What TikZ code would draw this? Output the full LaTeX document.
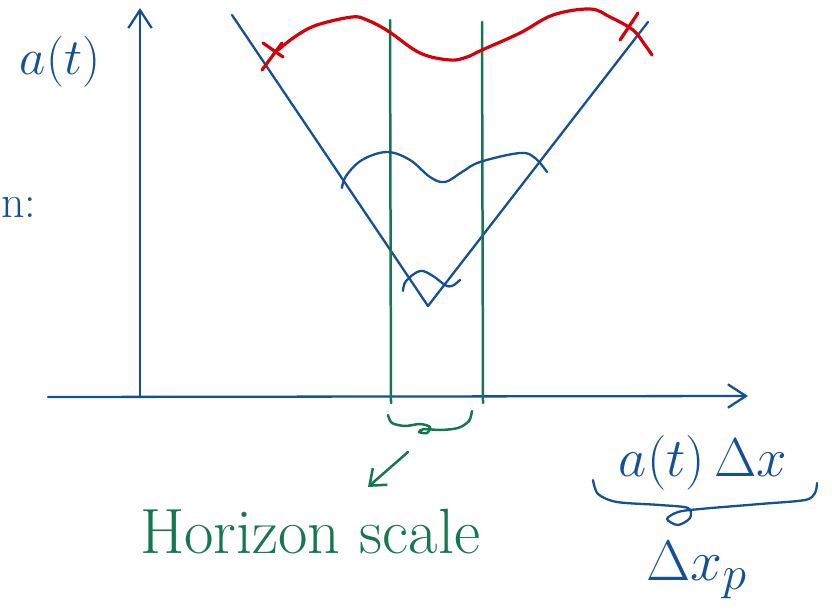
\documentclass[tikz,border=0pt]{standalone}
\usetikzlibrary{arrows.meta}
\definecolor{inkblue}{RGB}{22,80,148}
\definecolor{inkgreen}{RGB}{22,118,82}
\definecolor{inkred}{RGB}{214,0,10}
\tikzset{
  blueink/.style={draw=inkblue, line width=2.3pt, line cap=round, line join=round},
  greenink/.style={draw=inkgreen, line width=2.5pt, line cap=round, line join=round},
  redink/.style={draw=inkred, line width=3.2pt, line cap=round, line join=round},
  barb/.style={-{Straight Barb[length=#1, width=1.3*#1, line width=2.3pt]}},
  bluetext/.style={text=inkblue, inner sep=0pt},
  greentext/.style={text=inkgreen, inner sep=0pt},
}
\begin{document}
\begin{tikzpicture}[x=1pt,y=-1pt]
\useasboundingbox (0,0) rectangle (832,613);
% axes
\coordinate (yb) at (140,397);
\coordinate (yt) at (140,8);
\coordinate (xl) at (48,397);
\coordinate (xr) at (748,396);
\draw[blueink, barb=18pt] (yb) -- (yt);
\draw[blueink, barb=18pt] (xl) -- (xr);
% light cone (V)
\coordinate (vl) at (232,15);
\coordinate (v0) at (428,306);
\coordinate (vr) at (648,22);
\draw[blueink] (vl) -- (v0) -- (vr);
% horizon-scale lines
\coordinate (g1t) at (390,20);
\coordinate (g1b) at (391,403);
\coordinate (g2t) at (482,22);
\coordinate (g2b) at (483,403);
\draw[greenink] (g1t) -- (g1b);
\draw[greenink] (g2t) -- (g2b);
% red mode curve
\draw[redink] plot[smooth, tension=0.6] coordinates {(278,50) (296,36) (317,25) (352,17) (367,20) (388,31) (420,53) (450,60) (467,57) (482,50) (520,33) (553,15) (590,9) (610,17) (633,30) (645,45) (652,55)};
\draw[redink] (262,70) -- (282,43);
\draw[redink] (263,43) -- (283,57);
\draw[redink] (620,40) -- (638,13);
% blue mode curves
\draw[blueink] plot[smooth, tension=0.6] coordinates {(342,188) (346,176) (362,160) (387,152) (410,160) (430,177) (445,182) (462,172) (480,162) (520,153) (535,158) (547,172)};
\draw[blueink] plot[smooth, tension=0.6] coordinates {(403,291) (406,281) (420,271) (433,276) (445,285) (452,286) (460,280)};
% green brace
\draw[greenink] plot[smooth, tension=0.5] coordinates {(388,415) (392,423) (405,426) (420,424) (430,427) (427,433) (419,432) (424,429) (440,430) (458,428) (469,421) (472,411)};
% green arrow
\coordinate (ga) at (408,452);
\coordinate (gb) at (368,487);
\draw[greenink, -{Straight Barb[length=14pt, width=22pt, line width=2.5pt]}] (ga) -- (gb);
% blue brace bottom right
\draw[blueink] plot[smooth, tension=0.5] coordinates {(593,480) (598,494) (617,502) (660,505) (688,508) (690,518) (678,525) (667,519) (678,512) (700,509) (760,504) (805,500) (815,493) (817,483)};
% labels
\node[bluetext, scale=2.05] (at) at (60,62) {\Huge $a(t)$};
\node[bluetext, anchor=west, font=\fontsize{46}{48}\selectfont] (nl) at (1,207) {n:};
\node[greentext, anchor=base west, font=\fontsize{64}{66}\selectfont] (hs) at (140,553) {Horizon scale};
\node[bluetext, scale=2.2] (adx) at (703,463) {\Huge $a(t)\,\Delta x$};
\node[bluetext, scale=2.3] (dxp) at (697,570) {\Huge $\Delta x_{p}$};
\end{tikzpicture}
\end{document}
